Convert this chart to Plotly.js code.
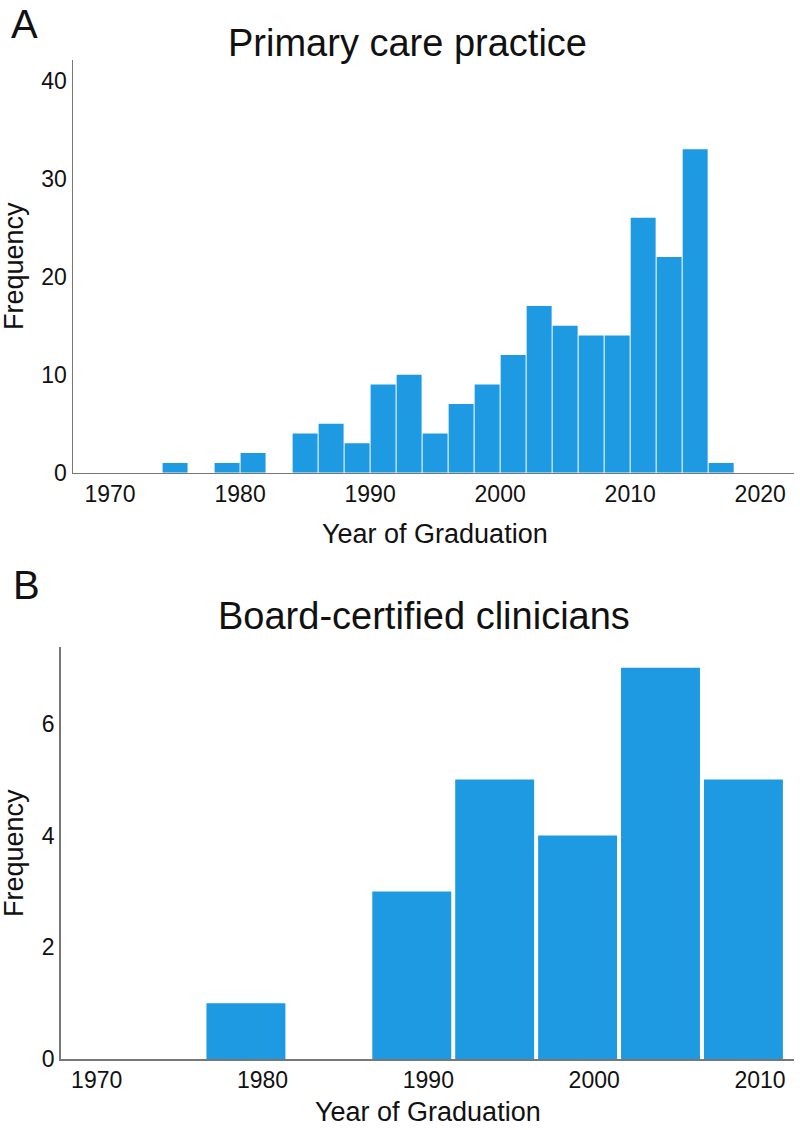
<!DOCTYPE html>
<html>
<head>
<meta charset="utf-8">
<script src="https://cdn.plot.ly/plotly-3.0.1.min.js"></script>
<style>html,body{margin:0;padding:0;background:#fff}#chart{width:800px;height:1130px}</style>
</head>
<body>
<div id="chart"></div>
<script>
// Panel A: Primary care practice (2-year bins, bin start years)
var primaryBinStart = [1974,1976,1978,1980,1982,1984,1986,1988,1990,1992,1994,1996,1998,2000,2002,2004,2006,2008,2010,2012,2014,2016];
var primaryFreq     = [1,0,1,2,0,4,5,3,9,10,4,7,9,12,17,15,14,14,26,22,33,1];
// Panel B: Board-certified clinicians (5-year bins, bin centers)
var boardBinCenter = [1979,1989,1994,1999,2004,2009];
var boardFreq      = [1,3,5,4,7,5];
var titleA = "Primary care practice";
var titleB = "Board-certified clinicians";
var xTitle = "Year of Graduation";
var yTitle = "Frequency";

var W = 800, H = 1130;
function px(x){return x/W;}
function py(y){return 1 - y/H;}

var barColor = "#1E9AE2";
var FONT = "Liberation Sans, Arial, sans-serif";

var primaryCenters = primaryBinStart.map(function(s){return s+1;});

var traces = [
  {type:"bar", x:primaryCenters, y:primaryFreq, width:1.92, xaxis:"x", yaxis:"y",
   marker:{color:barColor, line:{width:0}}, hoverinfo:"x+y"},
  {type:"bar", x:boardBinCenter, y:boardFreq, width:4.76, xaxis:"x2", yaxis:"y2",
   marker:{color:barColor, line:{width:0}}, hoverinfo:"x+y"}
];

var axisCommon = {
  showgrid:false, zeroline:false, showline:true, linecolor:"#777", linewidth:1.5,
  ticks:"", tickfont:{family:FONT, size:23, color:"#111"}, fixedrange:true
};

var layout = {
  width:W, height:H, margin:{l:0,r:0,t:0,b:0},
  paper_bgcolor:"#fff", plot_bgcolor:"#fff", showlegend:false,
  font:{family:FONT, color:"#111"},
  xaxis: Object.assign({}, axisCommon, {domain:[px(73), px(794)], range:[1967.15, 2022.6],
         tickvals:[1970,1980,1990,2000,2010,2020], anchor:"y"}),
  yaxis: Object.assign({}, axisCommon, {domain:[py(472.7), py(60)], range:[0, 42.1],
         tickvals:[0,10,20,30,40], anchor:"x"}),
  xaxis2: Object.assign({}, axisCommon, {domain:[px(60.7), px(794)], range:[1967.83, 2012.05],
         tickvals:[1970,1980,1990,2000,2010], anchor:"y2"}),
  yaxis2: Object.assign({}, axisCommon, {domain:[py(1059.3), py(647)], range:[0, 7.37],
         tickvals:[0,2,4,6], anchor:"x2"}),
  annotations:[
    {text:"A", x:px(9), y:py(0), xref:"paper", yref:"paper", xanchor:"left", yanchor:"top",
     showarrow:false, font:{family:FONT, size:40, color:"#111"}},
    {text:"B", x:px(11), y:py(561), xref:"paper", yref:"paper", xanchor:"left", yanchor:"top",
     showarrow:false, font:{family:FONT, size:40, color:"#111"}},
    {text:titleA, x:px(407), y:py(43), xref:"paper", yref:"paper", xanchor:"center", yanchor:"middle",
     showarrow:false, font:{family:FONT, size:38, color:"#111"}},
    {text:titleB, x:px(424), y:py(616), xref:"paper", yref:"paper", xanchor:"center", yanchor:"middle",
     showarrow:false, font:{family:FONT, size:38, color:"#111"}},
    {text:xTitle, x:px(435), y:py(534), xref:"paper", yref:"paper", xanchor:"center", yanchor:"middle",
     showarrow:false, font:{family:FONT, size:27, color:"#111"}},
    {text:xTitle, x:px(428), y:py(1129), xref:"paper", yref:"paper", xanchor:"center", yanchor:"bottom",
     showarrow:false, font:{family:FONT, size:27, color:"#111"}},
    {text:yTitle, x:px(14), y:py(266), xref:"paper", yref:"paper", xanchor:"center", yanchor:"middle",
     textangle:-90, showarrow:false, font:{family:FONT, size:27, color:"#111"}},
    {text:yTitle, x:px(14), y:py(853), xref:"paper", yref:"paper", xanchor:"center", yanchor:"middle",
     textangle:-90, showarrow:false, font:{family:FONT, size:27, color:"#111"}}
  ]
};

Plotly.newPlot("chart", traces, layout, {displayModeBar:false, staticPlot:true});
</script>
</body>
</html>
